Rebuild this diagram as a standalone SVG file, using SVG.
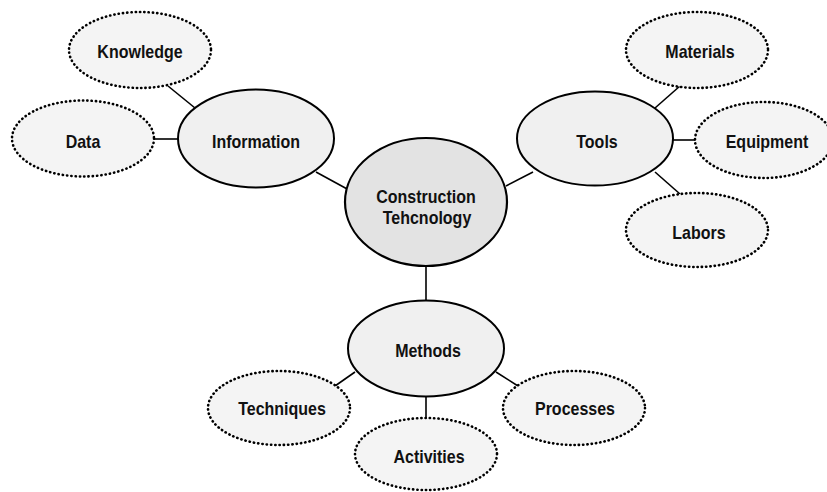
<svg xmlns="http://www.w3.org/2000/svg" width="827" height="492" viewBox="0 0 827 492">
<style>
.main{fill:#f0f0f0;stroke:#000;stroke-width:2}
.core{fill:#e3e3e3;stroke:#000;stroke-width:2.2}
.sub{fill:#f4f4f4;stroke:#000;stroke-width:2.6;stroke-dasharray:0.3 4;stroke-linecap:round}
.lbl{font-family:"Liberation Sans",Arial,sans-serif;font-weight:bold;font-size:16px;fill:#111;text-anchor:middle}
.conn line{stroke:#000;stroke-width:1.6}
</style>
<rect width="827" height="492" fill="#fff"/>
<g id="connectors" class="conn">
<line x1="168" y1="86" x2="195" y2="108"/>
<line x1="154" y1="139" x2="179" y2="139"/>
<line x1="316" y1="172" x2="349" y2="190"/>
<line x1="506" y1="186" x2="533" y2="172"/>
<line x1="655" y1="108" x2="680" y2="86"/>
<line x1="672" y1="140" x2="696" y2="140"/>
<line x1="655" y1="172" x2="680" y2="194"/>
<line x1="426" y1="266" x2="426" y2="301"/>
<line x1="355" y1="372" x2="335" y2="386"/>
<line x1="426" y1="397" x2="426" y2="418"/>
<line x1="496" y1="372" x2="518" y2="386"/>
</g>
<g id="knowledge"><ellipse class="sub" cx="140" cy="50" rx="71" ry="38"/><text class="lbl" transform="translate(140,58) scale(1,1.15)">Knowledge</text></g>
<g id="data"><ellipse class="sub" cx="83" cy="138.5" rx="71" ry="38"/><text class="lbl" transform="translate(83,147.5) scale(1,1.15)">Data</text></g>
<g id="information"><ellipse class="main" cx="256" cy="138.5" rx="78" ry="49"/><text class="lbl" transform="translate(256,147.5) scale(1,1.15)">Information</text></g>
<g id="construction"><ellipse class="core" cx="426" cy="202" rx="81" ry="64"/><text class="lbl" transform="translate(426,202.5) scale(1,1.15)">Construction</text><text class="lbl" transform="translate(427,223.5) scale(1,1.15)">Tehcnology</text></g>
<g id="tools"><ellipse class="main" cx="595" cy="138.5" rx="78" ry="47"/><text class="lbl" transform="translate(597,148) scale(1,1.15)">Tools</text></g>
<g id="materials"><ellipse class="sub" cx="697" cy="50" rx="71" ry="38"/><text class="lbl" transform="translate(700,57.5) scale(1,1.15)">Materials</text></g>
<g id="equipment"><ellipse class="sub" cx="764" cy="140" rx="69" ry="38"/><text class="lbl" transform="translate(767,148) scale(1,1.15)">Equipment</text></g>
<g id="labors"><ellipse class="sub" cx="697" cy="230" rx="71" ry="37"/><text class="lbl" transform="translate(699,239) scale(1,1.15)">Labors</text></g>
<g id="methods"><ellipse class="main" cx="426" cy="348.5" rx="78" ry="48"/><text class="lbl" transform="translate(428,356.5) scale(1,1.15)">Methods</text></g>
<g id="techniques"><ellipse class="sub" cx="279" cy="408" rx="71" ry="37"/><text class="lbl" transform="translate(282,415) scale(1,1.15)">Techniques</text></g>
<g id="activities"><ellipse class="sub" cx="426" cy="454" rx="71" ry="36"/><text class="lbl" transform="translate(429,463) scale(1,1.15)">Activities</text></g>
<g id="processes"><ellipse class="sub" cx="574" cy="408" rx="71" ry="37"/><text class="lbl" transform="translate(575,415) scale(1,1.15)">Processes</text></g>
</svg>
